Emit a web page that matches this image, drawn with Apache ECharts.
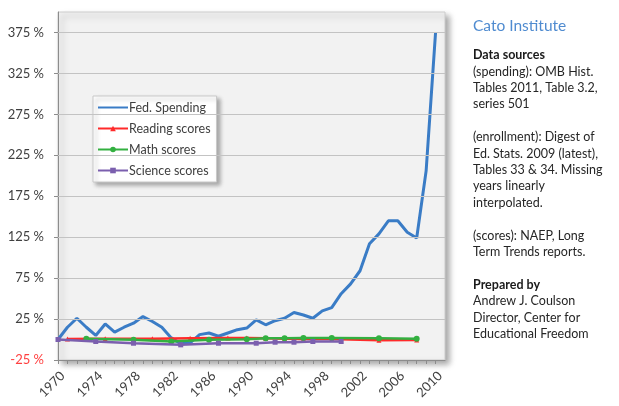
<!DOCTYPE html>
<html><head><meta charset="utf-8">
<script src="https://cdn.jsdelivr.net/npm/echarts@6/dist/echarts.min.js"></script>
<style>html,body{margin:0;padding:0;background:#fff}#c{width:619px;height:406px}</style>
</head><body><div id="c"></div>
<script>
// ---- data ----
const spendYears = [1970,1971,1972,1973,1974,1975,1976,1977,1978,1979,1980,1981,1982,1983,1984,1985,1986,1987,1988,1989,1990,1991,1992,1993,1994,1995,1996,1997,1998,1999,2000,2001,2002,2003,2004,2005,2006,2007,2008,2009,2010];
const spending = [0,15,26,15,5,19,9,15,20,28,22,15,2,-5,-4,6,8,4,8,12,14,24,18,23,26,33,30,26,35,39,56,68,84,117,129,145,145,131,124,206,375];
const readingYears = [1971,1975,1980,1984,1988,1990,1992,1994,1996,1999,2004,2008];
const reading = [0.5,1,1,1.5,2,2,1.5,1,0.5,0.5,-1,-0.5];
const mathYears = [1973,1978,1982,1986,1990,1992,1994,1996,1999,2004,2008];
const math = [0.8,-0.4,-2.4,-0.4,0.4,1.6,1.6,2,2,1.6,0.8];
const scienceYears = [1970,1974,1978,1983,1987,1991,1993,1995,1997,2000];
const science = [0,-2.4,-4.5,-6.5,-4.5,-4.5,-3.3,-3.3,-2.4,-2.4];
const yTicks = [-25,25,75,125,175,225,275,325,375];
const gridValues = [25,75,125,175,225,275,325,375];
const xLabelYears = [1970,1974,1978,1982,1986,1990,1994,1998,2002,2006,2010];
const xTickYears = spendYears;
const seriesNames = ['Fed. Spending','Reading scores','Math scores','Science scores'];
const sideTitle = 'Cato Institute';
const sideText = [
  '{b|Data sources}',
  '(spending): OMB Hist.',
  'Tables 2011, Table 3.2,',
  'series 501',
  '',
  '(enrollment): Digest of',
  'Ed. Stats. 2009 (latest),',
  'Tables 33 & 34. Missing',
  'years linearly',
  'interpolated.',
  '',
  '(scores): NAEP, Long',
  'Term Trends reports.',
  '',
  '{b|Prepared by}',
  'Andrew J. Coulson',
  'Director, Center for',
  'Educational Freedom'
];

const pairs = (xs, ys) => xs.map((x, i) => [x, ys[i]]);
const FONT = 'Lato';

const chart = echarts.init(document.getElementById('c'));
chart.setOption({
  animation: false,
  textStyle: { fontFamily: FONT },
  grid: {
    left: 58, top: 12, right: 174, bottom: 46,
    show: true, backgroundColor: '#f2f2f2', borderColor: '#cccccc', borderWidth: 1,
    shadowColor: 'rgba(0,0,0,0.35)', shadowBlur: 6, shadowOffsetX: 4, shadowOffsetY: 4
  },
  xAxis: {
    type: 'value', min: 1970, max: 2011,
    splitLine: { show: false },
    axisLine: { show: true, onZero: false, lineStyle: { color: '#8c8c8c' } },
    axisTick: { show: true, length: 4, customValues: xTickYears, lineStyle: { color: '#8c8c8c' } },
    axisLabel: {
      customValues: xLabelYears, rotate: 45, margin: 9, verticalAlign: 'top',
      color: '#404040', fontSize: 13, fontFamily: FONT,
      formatter: v => String(v)
    }
  },
  yAxis: {
    type: 'value', min: -25, max: 400,
    splitLine: { show: false },
    axisLine: { show: true, lineStyle: { color: '#8c8c8c' } },
    axisTick: { show: true, length: 4, customValues: yTicks, lineStyle: { color: '#8c8c8c' } },
    axisLabel: {
      customValues: yTicks, margin: 14, fontSize: 13, fontFamily: FONT,
      color: v => (v < 0 ? '#ff4040' : '#404040'),
      formatter: v => v + ' %'
    }
  },
  legend: {
    orient: 'vertical', left: 93, top: 96,
    data: [
      { name: seriesNames[0], itemStyle: { opacity: 0 } },
      seriesNames[1], seriesNames[2], seriesNames[3]
    ],
    backgroundColor: '#ffffff', borderColor: '#c8c8c8', borderWidth: 1,
    padding: [5, 6, 5, 4], itemGap: 8, itemWidth: 30, itemHeight: 7,
    shadowColor: 'rgba(0,0,0,0.3)', shadowBlur: 4, shadowOffsetX: 3, shadowOffsetY: 3,
    textStyle: { color: '#404040', fontSize: 12.5, fontFamily: FONT, padding: [0, 0, 0, -4] }
  },
  series: [
    {
      name: 'grid', type: 'line', data: [], z: 1, silent: true,
      markLine: {
        silent: true, symbol: 'none', label: { show: false },
        lineStyle: { color: '#c3c3c3', width: 1, type: 'solid' },
        data: gridValues.map(v => ({ yAxis: v }))
      }
    },
    {
      name: seriesNames[0], type: 'line', z: 3, data: pairs(spendYears, spending),
      showSymbol: false, symbol: 'none',
      lineStyle: { color: '#3a7cc6', width: 3 }, itemStyle: { color: '#3a7cc6' }
    },
    {
      name: seriesNames[1], type: 'line', z: 4, data: pairs(readingYears, reading),
      symbol: 'triangle', symbolSize: 5,
      lineStyle: { color: '#ff2a2a', width: 2.5 }, itemStyle: { color: '#ff2a2a' }
    },
    {
      name: seriesNames[2], type: 'line', z: 5, data: pairs(mathYears, math),
      symbol: 'circle', symbolSize: 6,
      lineStyle: { color: '#33b040', width: 2.5 }, itemStyle: { color: '#33b040' }
    },
    {
      name: seriesNames[3], type: 'line', z: 6, data: pairs(scienceYears, science),
      symbol: 'rect', symbolSize: 5,
      lineStyle: { color: '#7b5fae', width: 2.5 }, itemStyle: { color: '#7b5fae' }
    }
  ],
  graphic: [
    {
      type: 'text', left: 473, top: 18,
      style: { text: sideTitle, fill: '#4f8bd0', font: '15.5px ' + FONT }
    },
    {
      type: 'text', left: 473, top: 47,
      style: {
        text: sideText.join('\n'), fill: '#262626', font: '12.5px ' + FONT,
        lineHeight: 16.4,
        rich: { b: { fontWeight: 'bold', fontSize: 12.5, fontFamily: FONT, lineHeight: 16.4, fill: '#1a1a1a' } }
      }
    }
  ]
});
</script>
</body></html>
